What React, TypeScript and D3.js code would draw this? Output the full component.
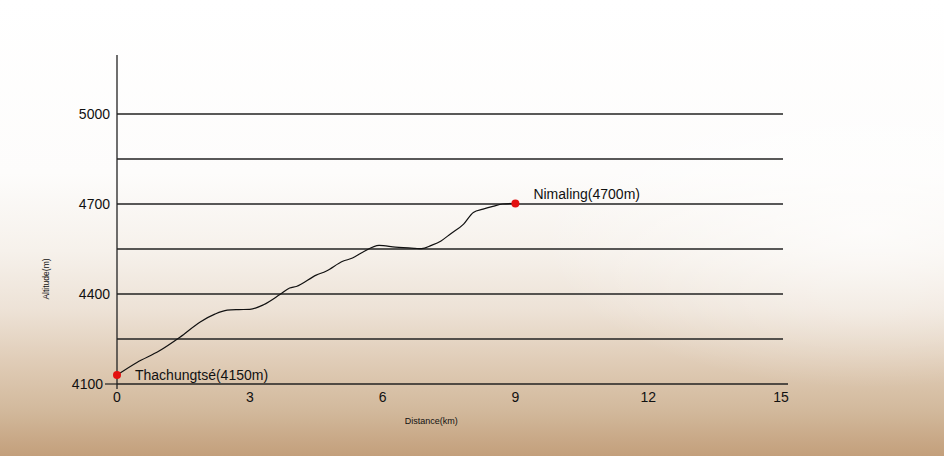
import React from "react";
import * as d3 from "d3";

// trek profile
const distanceKm = [
    0, 0.45, 0.95, 1.42, 1.88, 2.21, 2.49, 2.75, 3.0, 3.31, 3.68, 3.9, 4.05, 4.5, 4.72,
    5.1, 5.32, 5.55, 5.92, 6.29, 6.73, 6.88, 7.1, 7.32, 7.54, 7.83, 8.05, 8.27, 8.49, 8.71, 9.0,
];
const altitudeM = [
    4130, 4172, 4210, 4256, 4307, 4333, 4346, 4348, 4349, 4364, 4398, 4420, 4425, 4463, 4476,
    4509, 4520, 4539, 4562, 4556, 4552, 4551, 4562, 4577, 4601, 4633, 4672, 4683, 4692, 4700, 4702,
];

const gridAltitudes = [4100, 4250, 4400, 4550, 4700, 4850, 5000];
const yTickLabels = [4100, 4400, 4700, 5000];
const xTickLabels = [0, 3, 6, 9, 12, 15];

const stopNames = ["Thachungtsé(4150m)", "Nimaling(4700m)"];
const stopKm = [0, 9];
const stopAlt = [4130, 4702];

const width = 944;
const height = 456;
const font = "'Liberation Sans', Arial, Helvetica, sans-serif";

const App: React.FC = () => {
    const x = d3.scaleLinear().domain([0, 15]).range([117, 781]);
    const y = d3.scaleLinear().domain([4100, 5000]).range([384, 114]);

    const points = distanceKm.map((d, i) => [d, altitudeM[i]] as [number, number]);
    const line = d3
        .line<[number, number]>()
        .x((d) => x(d[0]))
        .y((d) => y(d[1]))
        .curve(d3.curveMonotoneX);

    return (
        <svg
            width={width}
            height={height}
            style={{ position: "absolute", left: 0, top: 0, display: "block" }}
            fontFamily={font}
        >
            <defs>
                <linearGradient id="sand" x1="0" y1="0" x2="0" y2="1">
                    <stop offset="0%" stopColor="#ffffff" />
                    <stop offset="38%" stopColor="#fdfcfb" />
                    <stop offset="55%" stopColor="#f6f1eb" />
                    <stop offset="68%" stopColor="#ede2d6" />
                    <stop offset="80%" stopColor="#dfcbb5" />
                    <stop offset="90%" stopColor="#d2b99c" />
                    <stop offset="100%" stopColor="#c39f7b" />
                </linearGradient>
                <radialGradient id="glow" cx="0.92" cy="0.5" r="0.35">
                    <stop offset="0%" stopColor="#ffffff" stopOpacity={0.7} />
                    <stop offset="100%" stopColor="#ffffff" stopOpacity={0} />
                </radialGradient>
            </defs>
            <rect width={width} height={height} fill="url(#sand)" />
            <rect width={width} height={height} fill="url(#glow)" />

            {/* grid lines */}
            {gridAltitudes.map((a) => (
                <line
                    key={a}
                    x1={x(0)}
                    x2={a === 4100 ? x(15) + 7 : x(15) + 2}
                    y1={y(a)}
                    y2={y(a)}
                    stroke="#222"
                    strokeWidth={1.3}
                />
            ))}

            {/* y axis */}
            <line x1={x(0)} x2={x(0)} y1={y(5197)} y2={y(4100) + 5} stroke="#222" strokeWidth={1.3} />
            <line x1={x(0) - 12} x2={x(0)} y1={y(4100)} y2={y(4100)} stroke="#222" strokeWidth={1.2} />
            {yTickLabels.map((a) => (
                <text
                    key={a}
                    x={a === 4100 ? x(0) - 14 : x(0) - 7}
                    y={y(a)}
                    dy="0.35em"
                    textAnchor="end"
                    fontSize={14}
                    fill="#111"
                >
                    {a}
                </text>
            ))}

            {xTickLabels.map((d) => (
                <text key={d} x={x(d)} y={y(4100) + 18} textAnchor="middle" fontSize={14} fill="#111">
                    {d}
                </text>
            ))}

            <text
                transform={`translate(49,${y(4450)}) rotate(-90)`}
                textAnchor="middle"
                fontSize={8.5}
                fill="#111"
            >
                Altitude(m)
            </text>
            <text x={x(7.1)} y={y(4100) + 40} textAnchor="middle" fontSize={9} fill="#111">
                Distance(km)
            </text>

            {/* profile */}
            <path d={line(points) ?? ""} fill="none" stroke="#111" strokeWidth={1.2} />

            {stopNames.map((n, i) => (
                <g key={n}>
                    <circle cx={x(stopKm[i])} cy={y(stopAlt[i])} r={4} fill="#e31010" />
                    <text
                        x={x(stopKm[i]) + 18}
                        y={y(stopAlt[i]) + (i === 0 ? 0 : -9)}
                        dy="0.35em"
                        fontSize={14}
                        fill="#111"
                    >
                        {n}
                    </text>
                </g>
            ))}
        </svg>
    );
};

export default App;
